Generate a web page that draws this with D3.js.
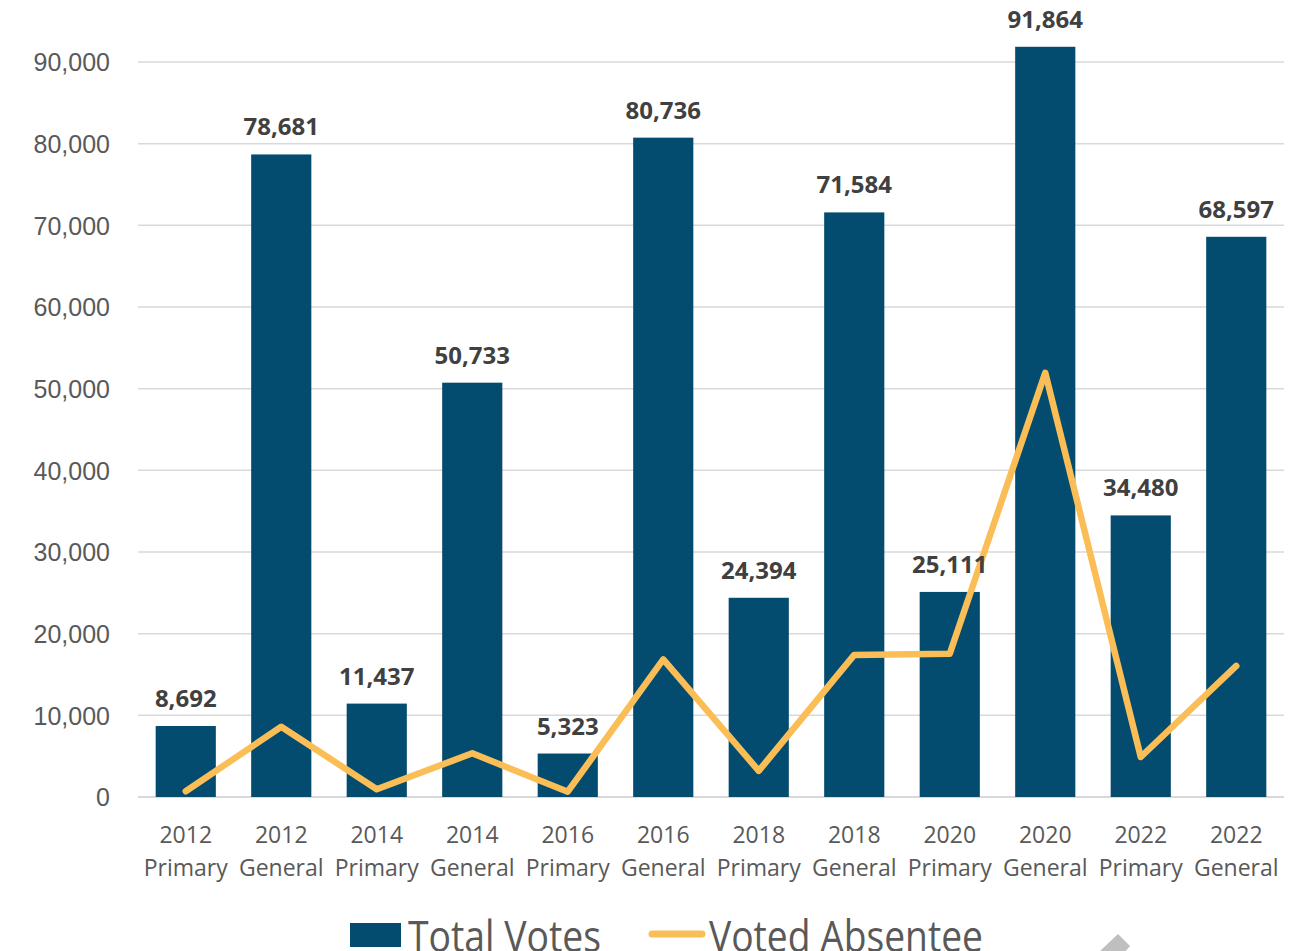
<!DOCTYPE html>
<html>
<head>
<meta charset="utf-8">
<script src="https://cdn.jsdelivr.net/npm/d3@7"></script>
<style>
  body { margin: 0; background: #fff; }
  svg { display: block; font-family: "Open Sans", sans-serif; }
</style>
</head>
<body>
<div id="chart"></div>
<script>
// data
var years = ['2012', '2012', '2014', '2014', '2016', '2016', '2018', '2018', '2020', '2020', '2022', '2022'];
var types = ['Primary', 'General', 'Primary', 'General', 'Primary', 'General', 'Primary', 'General', 'Primary', 'General', 'Primary', 'General'];
var totalVotes = [8692, 78681, 11437, 50733, 5323, 80736, 24394, 71584, 25111, 91864, 34480, 68597];
var votedAbsentee = [700, 8600, 950, 5350, 650, 16850, 3200, 17400, 17550, 51950, 4900, 16050];
var yTicks = [0, 10000, 20000, 30000, 40000, 50000, 60000, 70000, 80000, 90000];

var svgWidth = 1310;
var svgHeight = 951;

var margin = { top: 62, left: 138, right: 26, bottom: 154 };
var width = svgWidth - margin.left - margin.right;
var height = svgHeight - margin.top - margin.bottom;

var barColor = '#034c6f';
var lineColor = '#fbbe57';
var textColor = '#595959';

var svg = d3.select('#chart')
  .append('svg')
  .attr('width', svgWidth)
  .attr('height', svgHeight);

var chartGroup = svg.append('g')
  .attr('transform', `translate(${margin.left}, ${margin.top})`);

// scales
var xScale = d3.scaleBand()
  .domain(d3.range(years.length))
  .range([0, width])
  .paddingInner(0.37)
  .paddingOuter(0.185);

var yScale = d3.scaleLinear()
  .domain([0, 90000])
  .range([height, 0]);

// gridlines
chartGroup.append('g')
  .selectAll('line')
  .data(yTicks)
  .enter()
  .append('line')
  .attr('x1', 0)
  .attr('x2', width)
  .attr('y1', d => yScale(d))
  .attr('y2', d => yScale(d))
  .attr('stroke', '#d9d9d9')
  .attr('stroke-width', d => d === 0 ? 2 : 1.5);

// y axis labels
var leftAxis = d3.axisLeft(yScale)
  .tickValues(yTicks)
  .tickFormat(d3.format(','))
  .tickSize(0)
  .tickPadding(28);

var yAxis = chartGroup.append('g').call(leftAxis);
yAxis.select('.domain').remove();
yAxis.selectAll('text')
  .attr('fill', textColor)
  .style('font-size', '25px')
  .attr('dy', '0.35em');

// bars
chartGroup.selectAll('rect.bar')
  .data(totalVotes)
  .enter()
  .append('rect')
  .attr('class', 'bar')
  .attr('x', (d, i) => xScale(i))
  .attr('y', d => yScale(d))
  .attr('width', xScale.bandwidth())
  .attr('height', d => height - yScale(d))
  .attr('fill', barColor);

// absentee line
var line = d3.line()
  .x((d, i) => xScale(i) + xScale.bandwidth() / 2)
  .y(d => yScale(d));

chartGroup.append('path')
  .datum(votedAbsentee)
  .attr('d', line)
  .attr('fill', 'none')
  .attr('stroke', lineColor)
  .attr('stroke-width', 6.5)
  .attr('stroke-linecap', 'round')
  .attr('stroke-linejoin', 'round');

// data labels
chartGroup.selectAll('text.val')
  .data(totalVotes)
  .enter()
  .append('text')
  .attr('class', 'val')
  .attr('x', (d, i) => xScale(i) + xScale.bandwidth() / 2)
  .attr('y', d => yScale(d) - 19)
  .attr('text-anchor', 'middle')
  .attr('fill', '#404040')
  .style('font-size', '24px')
  .style('font-weight', 'bold')
  .text(d => d3.format(',')(d));

// x labels (two lines)
var xLabels = chartGroup.append('g')
  .selectAll('text')
  .data(years)
  .enter()
  .append('text')
  .attr('x', (d, i) => xScale(i) + xScale.bandwidth() / 2)
  .attr('text-anchor', 'middle')
  .attr('fill', textColor)
  .style('font-size', '23px');

xLabels.append('tspan')
  .attr('x', (d, i) => xScale(i) + xScale.bandwidth() / 2)
  .attr('y', height + 46)
  .text(d => d);

xLabels.append('tspan')
  .attr('x', (d, i) => xScale(i) + xScale.bandwidth() / 2)
  .attr('y', height + 79)
  .text((d, i) => types[i]);

// legend (cut by the bottom edge as in the original)
var legend = svg.append('g');

legend.append('rect')
  .attr('x', 350)
  .attr('y', 923)
  .attr('width', 51)
  .attr('height', 24)
  .attr('fill', barColor);

legend.append('text')
  .attr('x', 408)
  .attr('y', 952)
  .attr('fill', textColor)
  .style('font-size', '44px')
  .attr('textLength', 193)
  .attr('lengthAdjust', 'spacingAndGlyphs')
  .text('Total Votes');

legend.append('line')
  .attr('x1', 652)
  .attr('x2', 702)
  .attr('y1', 934)
  .attr('y2', 934)
  .attr('stroke', lineColor)
  .attr('stroke-width', 7)
  .attr('stroke-linecap', 'round');

legend.append('text')
  .attr('x', 709)
  .attr('y', 952)
  .attr('fill', textColor)
  .style('font-size', '44px')
  .attr('textLength', 274)
  .attr('lengthAdjust', 'spacingAndGlyphs')
  .text('Voted Absentee');

// grey corner shape at the bottom edge
svg.append('polygon')
  .attr('points', '1118,934 1130,946 1125,952 1099,952')
  .attr('fill', '#bfbfbf');
</script>
</body>
</html>
